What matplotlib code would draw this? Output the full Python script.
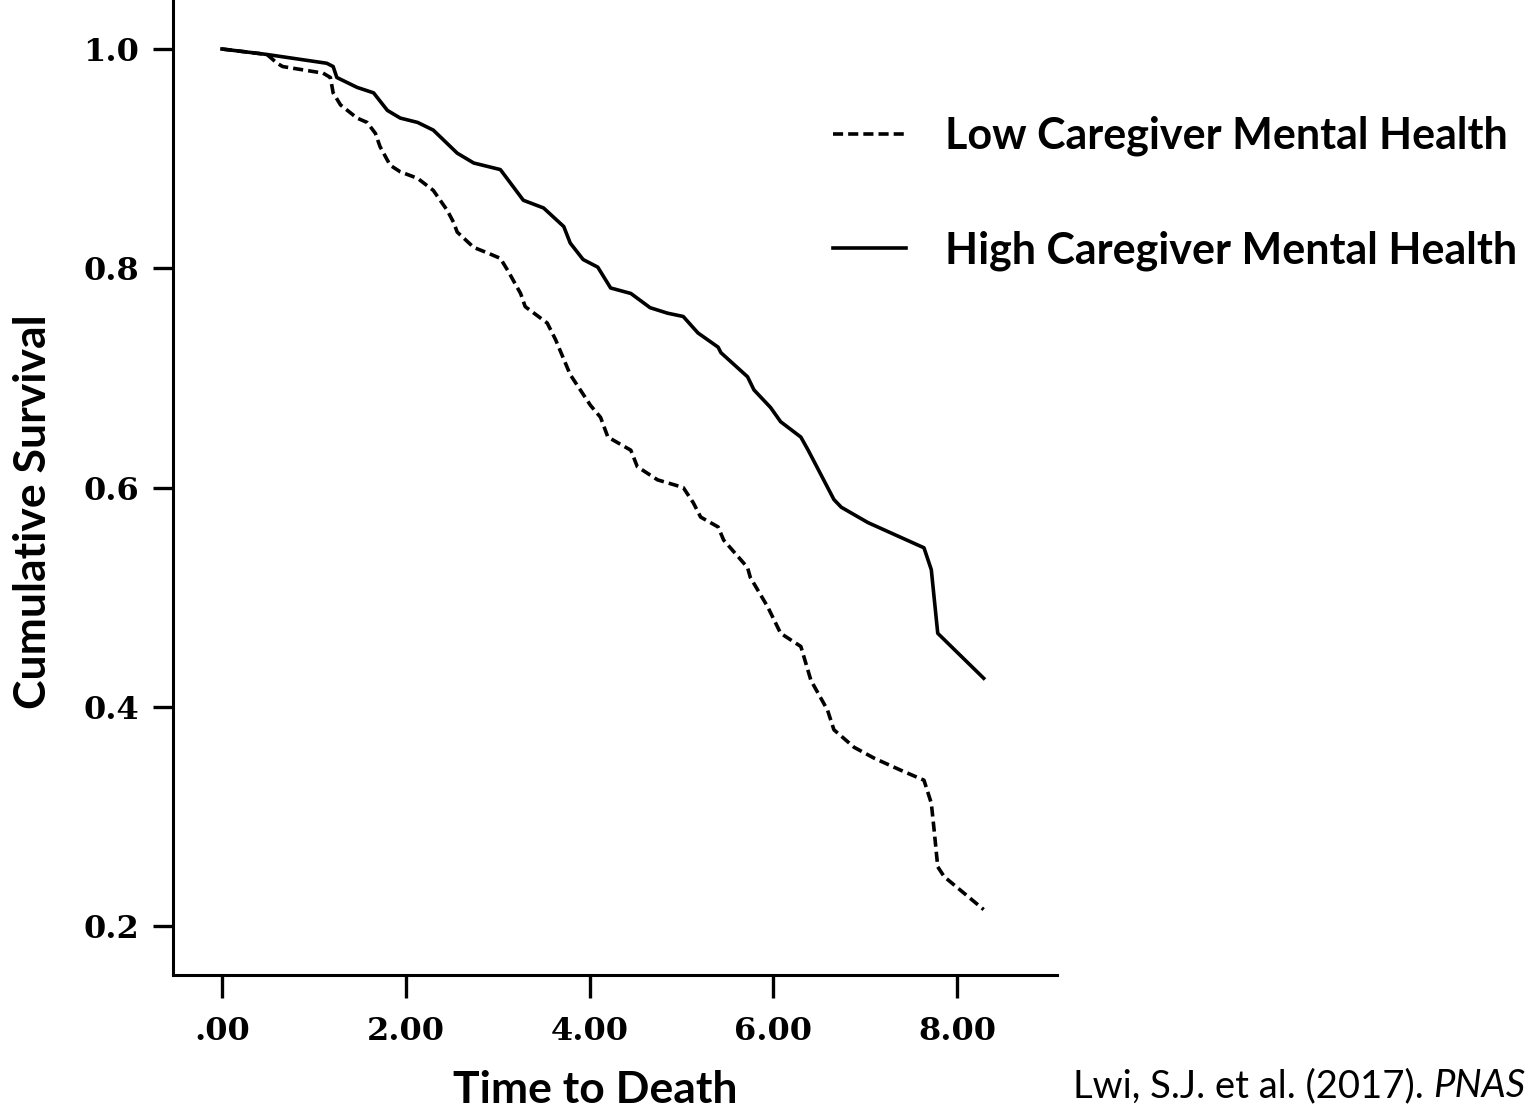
import matplotlib
matplotlib.use("Agg")
import matplotlib.pyplot as plt

plt.rcParams['font.family'] = ['Lato', 'DejaVu Sans']

# Kaplan-Meier style curves
time_high = [0.00, 0.49, 1.14, 1.21, 1.25, 1.47, 1.65, 1.80, 1.94, 2.13, 2.30, 2.56, 2.74,
             3.03, 3.28, 3.50, 3.72, 3.79, 3.93, 4.09, 4.23, 4.45, 4.66, 4.85, 5.02, 5.18,
             5.40, 5.43, 5.72, 5.79, 5.97, 6.08, 6.30, 6.38, 6.66, 6.74, 7.03, 7.64, 7.72,
             7.75, 7.79, 8.29]
surv_high = [1.000, 0.995, 0.987, 0.984, 0.974, 0.965, 0.960, 0.944, 0.937, 0.933, 0.926,
             0.905, 0.896, 0.890, 0.862, 0.855, 0.838, 0.823, 0.808, 0.801, 0.782, 0.777,
             0.764, 0.759, 0.756, 0.741, 0.728, 0.723, 0.701, 0.689, 0.673, 0.660, 0.646,
             0.634, 0.589, 0.582, 0.568, 0.545, 0.525, 0.500, 0.467, 0.426]

time_low = [0.00, 0.49, 0.60, 0.66, 1.10, 1.18, 1.21, 1.29, 1.47, 1.58, 1.67, 1.72, 1.83,
            1.94, 2.13, 2.30, 2.45, 2.52, 2.56, 2.74, 2.89, 3.03, 3.11, 3.25, 3.30, 3.54,
            3.63, 3.79, 4.01, 4.12, 4.20, 4.45, 4.52, 4.74, 5.02, 5.13, 5.21, 5.40, 5.46,
            5.72, 5.75, 5.94, 6.08, 6.30, 6.41, 6.59, 6.66, 6.88, 7.10, 7.39, 7.64, 7.72,
            7.75, 7.79, 7.86, 8.29]
surv_low = [1.000, 0.995, 0.987, 0.984, 0.978, 0.974, 0.960, 0.949, 0.937, 0.933, 0.923,
            0.911, 0.894, 0.888, 0.882, 0.871, 0.853, 0.842, 0.833, 0.819, 0.814, 0.809,
            0.798, 0.777, 0.765, 0.750, 0.735, 0.703, 0.675, 0.664, 0.646, 0.634, 0.619,
            0.607, 0.600, 0.586, 0.573, 0.564, 0.552, 0.527, 0.518, 0.491, 0.467, 0.455,
            0.424, 0.397, 0.379, 0.363, 0.353, 0.342, 0.333, 0.312, 0.288, 0.254, 0.245,
            0.215]

x_ticks = [0, 2, 4, 6, 8]
x_ticklabels = [".00", "2.00", "4.00", "6.00", "8.00"]
y_ticks = [0.2, 0.4, 0.6, 0.8, 1.0]
y_ticklabels = ["0.2", "0.4", "0.6", "0.8", "1.0"]

fig = plt.figure(figsize=(15.37, 11.10), dpi=100)
ax = fig.add_axes([0.11256, 0.12162, 0.57515, 0.87838])

ax.plot(time_low, surv_low, color="black", lw=2.6, dashes=(2.8, 1.4),
        label="Low Caregiver Mental Health")
ax.plot(time_high, surv_high, color="black", lw=2.6, label="High Caregiver Mental Health")

ax.set_xlim(-0.533, 9.088)
ax.set_ylim(0.1553, 1.0447)
for s in ["top", "right"]:
    ax.spines[s].set_visible(False)
for s in ["left", "bottom"]:
    ax.spines[s].set_linewidth(2.2)

ax.set_xticks(x_ticks)
ax.set_xticklabels(x_ticklabels, family="DejaVu Serif", fontweight="bold", fontsize=23)
ax.set_yticks(y_ticks)
ax.set_yticklabels(y_ticklabels, family="DejaVu Serif", fontweight="bold", fontsize=23)
ax.tick_params(axis="x", length=16.5, width=2.4, pad=13)
ax.tick_params(axis="y", length=14.4, width=2.4, pad=10)

fig.text(0.0215, 0.539, "Cumulative Survival", rotation=90, ha="center", va="center",
         fontsize=32, fontweight="bold")
fig.text(595 / 1537, 1 - 1103 / 1110, "Time to Death", ha="center", va="baseline",
         fontsize=32, fontweight="bold")

ax.legend(loc="upper left", bbox_to_anchor=(833 / 1537, 1 - 116 / 1110),
          bbox_transform=fig.transFigure, frameon=False,
          prop={"size": 31, "weight": "bold"}, handlelength=1.7,
          handletextpad=0.9, labelspacing=1.72, borderaxespad=0, borderpad=0)

# citation: plain text followed by italic journal name
cite = fig.text(1073 / 1537, 1 - 1097 / 1110, "Lwi, S.J. et al. (2017). ",
                ha="left", va="baseline", fontsize=27.5)
ax.annotate("PNAS", xy=(1, 0), xycoords=cite, fontsize=27.5, fontstyle="italic",
            ha="left", va="bottom", annotation_clip=False)

fig.savefig("out.png", dpi=100)
